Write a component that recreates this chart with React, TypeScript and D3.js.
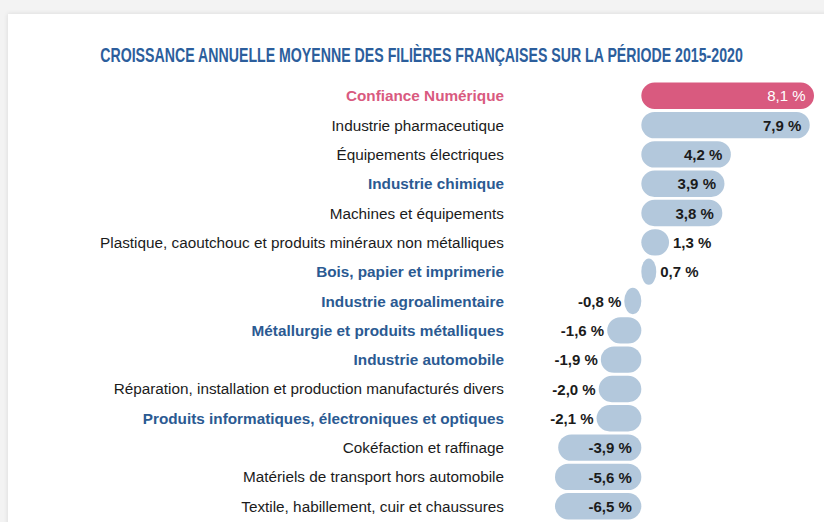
import React, { useLayoutEffect, useRef, useState } from "react";
import * as d3 from "d3";

const categories = [
  "Confiance Numérique",
  "Industrie pharmaceutique",
  "Équipements électriques",
  "Industrie chimique",
  "Machines et équipements",
  "Plastique, caoutchouc et produits minéraux non métalliques",
  "Bois, papier et imprimerie",
  "Industrie agroalimentaire",
  "Métallurgie et produits métalliques",
  "Industrie automobile",
  "Réparation, installation et production manufacturés divers",
  "Produits informatiques, électroniques et optiques",
  "Cokéfaction et raffinage",
  "Matériels de transport hors automobile",
  "Textile, habillement, cuir et chaussures",
];
const values = [8.1, 7.9, 4.2, 3.9, 3.8, 1.3, 0.7, -0.8, -1.6, -1.9, -2.0, -2.1, -3.9, -5.6, -6.5];
// 0 = normal, 1 = highlighted (pink), 2 = bold blue
const styles = [1, 0, 0, 2, 0, 0, 2, 2, 2, 2, 0, 2, 0, 0, 0];
const title = "CROISSANCE ANNUELLE MOYENNE DES FILIÈRES FRANÇAISES SUR LA PÉRIODE 2015-2020";

const W = 824;
const H = 522;
const PINK = "#d95a7f";
const BAR = "#b3c8dc";
const BLUE = "#2b5a92";
const TXT = "#1b1b1b";

const fmt = (v: number) => v.toFixed(1).replace(".", ",") + " %";

export default function App() {
  const titleRef = useRef<SVGTextElement | null>(null);
  const [sx, setSx] = useState(1);
  useLayoutEffect(() => {
    if (titleRef.current) {
      const len = titleRef.current.getComputedTextLength();
      if (len > 0) setSx(643 / len);
    }
  }, []);

  const x = d3.scaleLinear().domain([-4.05, 8.1]).range([555, 814]).clamp(true);
  const y = d3
    .scaleBand<string>()
    .domain(categories)
    .range([81.1, 81.1 + 29.32 * categories.length])
    .paddingInner(0.1)
    .paddingOuter(0.05);
  const bh = y.bandwidth();

  return (
    <svg
      width={W}
      height={H}
      style={{ position: "absolute", left: 0, top: 0 }}
      fontFamily="'Liberation Sans', Arial, Helvetica, sans-serif"
    >
      <defs>
        <filter id="sh" x="-5%" y="-5%" width="110%" height="110%">
          <feGaussianBlur in="SourceAlpha" stdDeviation="2.5" />
          <feComponentTransfer>
            <feFuncA type="linear" slope="0.12" />
          </feComponentTransfer>
          <feMerge>
            <feMergeNode />
            <feMergeNode in="SourceGraphic" />
          </feMerge>
        </filter>
      </defs>
      <rect x={0} y={0} width={W} height={H} fill="#f3f3f3" />
      <rect x={8} y={14} width={W + 20} height={H + 20} fill="#ffffff" filter="url(#sh)" />
      <g transform={`translate(421.5,62) scale(${sx},1)`}>
        <text
          ref={titleRef}
          x={0}
          y={0}
          textAnchor="middle"
          fontFamily="'Liberation Sans', Arial, sans-serif"
          fontWeight="bold"
          fontSize={20.5}
          fill="#2c5e9c"
        >
          {title}
        </text>
      </g>
      {categories.map((c, i) => {
        const v = values[i];
        const yc = (y(c) as number) + bh / 2;
        const xs = x(Math.min(0, v));
        const xe = x(Math.max(0, v));
        const w = xe - xs;
        const inside = w > 60;
        const st = styles[i];
        const labelColor = st === 1 ? PINK : st === 2 ? BLUE : TXT;
        let vx: number;
        let anchor: string;
        if (inside) {
          vx = v >= 0 ? xe - 8.5 : xe - 9.5;
          anchor = "end";
        } else if (v >= 0) {
          vx = xe + 4;
          anchor = "start";
        } else {
          vx = xs - 3;
          anchor = "end";
        }
        return (
          <g key={c}>
            <text
              x={504}
              y={yc}
              dy="0.36em"
              textAnchor="end"
              fontSize={15.3}
              fontWeight={st === 0 ? "normal" : "bold"}
              fill={labelColor}
            >
              {c}
            </text>
            <rect
              x={xs}
              y={yc - bh / 2}
              width={w}
              height={bh}
              rx={bh / 2}
              ry={bh / 2}
              fill={st === 1 ? PINK : BAR}
            />
            <text
              x={vx}
              y={yc}
              dy="0.38em"
              textAnchor={anchor}
              fontSize={15}
              fontWeight={st === 1 ? "normal" : "bold"}
              fill={st === 1 ? "#ffffff" : TXT}
            >
              {fmt(v)}
            </text>
          </g>
        );
      })}
    </svg>
  );
}
